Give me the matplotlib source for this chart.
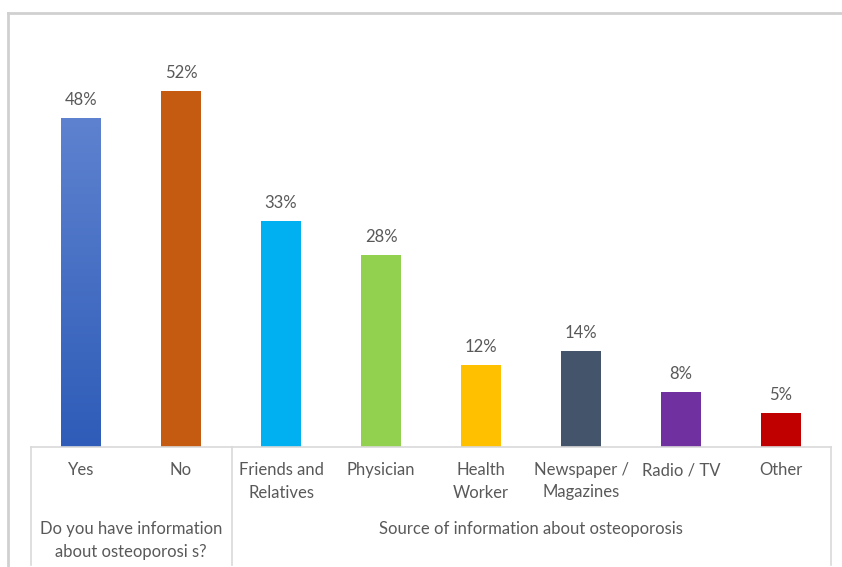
import numpy as np
import matplotlib.pyplot as plt
from matplotlib.colors import LinearSegmentedColormap
from matplotlib.lines import Line2D

categories = ["Yes", "No", "Friends and\nRelatives", "Physician", "Health\nWorker",
              "Newspaper /\nMagazines", "Radio / TV", "Other"]
values = [48, 52, 33, 28, 12, 14, 8, 5]
colors = ["#4472C4", "#C55A11", "#00B0F0", "#92D050", "#FFC000", "#44546A", "#7030A0", "#C00000"]
groups = ["Do you have information\nabout osteoporosi s?", "Source of information about osteoporosis"]
group_sizes = [2, 6]

plt.rcParams['font.family'] = ['Lato', 'DejaVu Sans']
text_color = "#595959"
line_color = "#D9D9D9"

W, H = 842, 567
fig = plt.figure(figsize=(W / 100, H / 100), dpi=100)

# axes area in pixels: x 31..831, baseline at y=447
ax = fig.add_axes([31 / W, (H - 447) / H, 800 / W, (447 - 40) / H])
x = np.arange(len(values))
bars = ax.bar(x, values, width=0.4, color=colors, zorder=2)
ax.set_xlim(-0.5, len(values) - 0.5)
ax.set_ylim(0, (447 - 40) / 6.854)
ax.axis('off')

# gradient on the "Yes" bar
b = bars[0]
grad = LinearSegmentedColormap.from_list("g", ["#2E5CB8", "#5E82CF"])
img = ax.imshow(np.linspace(0, 1, 256).reshape(-1, 1), cmap=grad, origin='lower',
                extent=[b.get_x(), b.get_x() + b.get_width(), 0, b.get_height()],
                aspect='auto', zorder=3)
img.set_clip_path(b)

for xi, v in zip(x, values):
    ax.annotate(f"{v}%", (xi, v), xytext=(0, 7), textcoords='offset points',
                ha='center', va='bottom', fontsize=12, color=text_color)

# category table below the axis
def px(xp, yp):
    return xp / W, 1 - yp / H

tr = fig.transFigure
fig.add_artist(Line2D([31 / W, 831 / W], [1 - 447 / H] * 2, color=line_color, lw=1.2, transform=tr))
for xp in [31, 232, 831]:
    fig.add_artist(Line2D([xp / W] * 2, [1 - 447 / H, 1 - 565 / H], color=line_color, lw=1.2, transform=tr))

for i, lab in enumerate(categories):
    cx = 81 + 100 * i
    fig.text(*px(cx, 462), lab, ha='center', va='top', fontsize=12, color=text_color,
             linespacing=1.5)

start = 0
for g, n in zip(groups, group_sizes):
    cx = 31 + 100 * (start + n / 2)
    fig.text(*px(cx, 521), g, ha='center', va='top', fontsize=12, color=text_color,
             linespacing=1.5)
    start += n

# outer chart frame (top and left edges)
fig.add_artist(Line2D([8 / W, 1], [1 - 13 / H] * 2, color="#D0D0D0", lw=2, transform=tr))
fig.add_artist(Line2D([8 / W] * 2, [1 - 13 / H, 0], color="#D0D0D0", lw=2, transform=tr))

fig.savefig("out.png", dpi=100)
